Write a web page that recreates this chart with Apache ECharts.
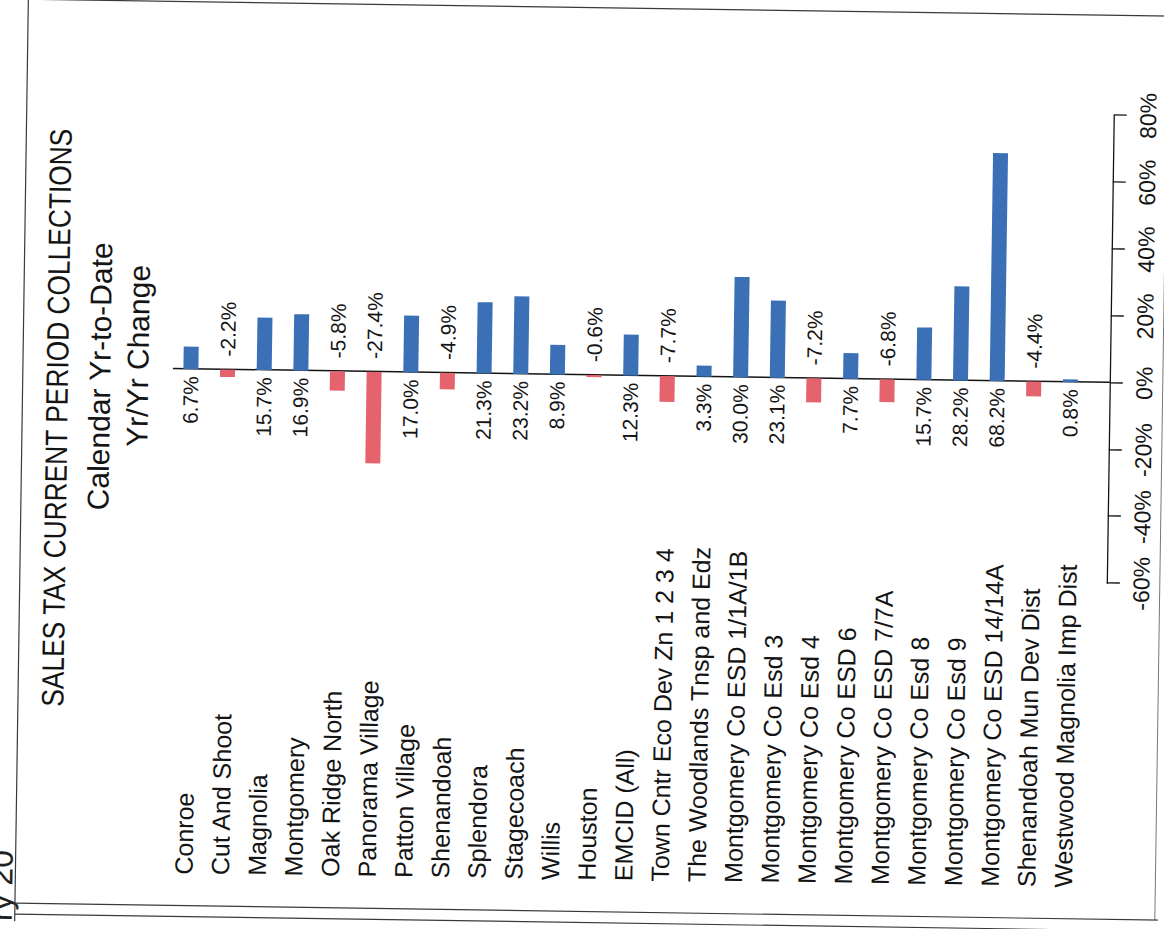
<!DOCTYPE html>
<html>
<head>
<meta charset="utf-8">
<script src="https://cdn.jsdelivr.net/npm/echarts@6/dist/echarts.min.js"></script>
<style>
  html, body { margin: 0; padding: 0; width: 1164px; height: 929px; overflow: hidden; background: #fff; }
  #chart { position: absolute; width: 929px; height: 1164px; left: 117.5px; top: -117.5px;
           transform-origin: 50% 50%; transform: rotate(-89.15deg); background: #fff; }
</style>
</head>
<body>
<div id="chart"></div>
<script>
// ---- data ----
const categories = [
  'Conroe', 'Cut And Shoot', 'Magnolia', 'Montgomery', 'Oak Ridge North',
  'Panorama Village', 'Patton Village', 'Shenandoah', 'Splendora', 'Stagecoach',
  'Willis', 'Houston', 'EMCID (All)', 'Town Cntr Eco Dev Zn 1 2 3 4',
  'The Woodlands Tnsp and Edz', 'Montgomery Co ESD 1/1A/1B', 'Montgomery Co Esd 3',
  'Montgomery Co Esd 4', 'Montgomery Co ESD 6', 'Montgomery Co ESD 7/7A',
  'Montgomery Co Esd 8', 'Montgomery Co Esd 9', 'Montgomery Co ESD 14/14A',
  'Shenandoah Mun Dev Dist', 'Westwood Magnolia Imp Dist'
];
const changePct = [
  6.7, -2.2, 15.7, 16.9, -5.8,
  -27.4, 17.0, -4.9, 21.3, 23.2,
  8.9, -0.6, 12.3, -7.7,
  3.3, 30.0, 23.1,
  -7.2, 7.7, -6.8,
  15.7, 28.2, 68.2,
  -4.4, 0.8
];
const axisMin = -60;
const axisMax = 80;
const axisStep = 20;
const titleText = 'SALES TAX CURRENT PERIOD COLLECTIONS';
const subtitle1 = 'Calendar Yr-to-Date';
const subtitle2 = 'Yr/Yr Change';
const pageFragment = 'ry 20';

// ---- styling ----
const FONT = '"Liberation Sans", Arial, Helvetica, sans-serif';
const BLUE = '#3b70b7';
const RED = '#e4636c';
const INK = '#141414';

const chart = echarts.init(document.getElementById('chart'), null, { renderer: 'svg' });

const barData = changePct.map(v => ({
  value: v,
  itemStyle: { color: v >= 0 ? BLUE : RED },
  label: { position: v >= 0 ? 'left' : 'right', distance: v >= 0 ? 7 : 13 }
}));

const option = {
  animation: false,
  backgroundColor: '#fff',
  grid: { left: 354, right: 107, top: 170.7, bottom: 77 },
  xAxis: [
    {
      type: 'value', min: axisMin, max: axisMax, interval: axisStep,
      position: 'bottom', offset: 21,
      axisLine: { show: true, onZero: false, lineStyle: { color: INK, width: 1.3 } },
      axisTick: { show: true, length: 13, lineStyle: { color: INK, width: 1.3 } },
      axisLabel: { formatter: '{value}%', fontSize: 23, color: INK, margin: 23, fontFamily: FONT },
      splitLine: { show: false }
    },
    {
      type: 'value', min: axisMin, max: axisMax,
      position: 'bottom', offset: 21,
      axisLine: { show: false, onZero: false },
      axisLabel: { show: false },
      splitLine: { show: false },
      axisTick: { show: true, inside: true, length: 937, customValues: [0],
                  lineStyle: { color: INK, width: 1.5 } }
    }
  ],
  yAxis: {
    type: 'category', inverse: true, data: categories,
    axisLine: { show: false, onZero: false },
    axisTick: { show: false },
    axisLabel: { interval: 0, align: 'left', margin: 305, fontSize: 25, color: INK, fontFamily: FONT }
  },
  series: [{
    type: 'bar',
    xAxisIndex: 0,
    barWidth: 15,
    data: barData,
    label: {
      show: true,
      formatter: p => p.value.toFixed(1) + '%',
      fontSize: 21, color: INK, fontFamily: FONT
    }
  }],
  graphic: [
    { type: 'text', x: 504, y: 55.5, scaleX: 0.85,
      style: { text: titleText, fontSize: 31, fontFamily: FONT, fill: INK,
               align: 'center', textAlign: 'center', verticalAlign: 'middle', textVerticalAlign: 'middle' } },
    { type: 'text', x: 546, y: 98,
      style: { text: subtitle1, fontSize: 30, fontFamily: FONT, fill: INK,
               align: 'center', textAlign: 'center', verticalAlign: 'middle', textVerticalAlign: 'middle' } },
    { type: 'text', x: 567, y: 136,
      style: { text: subtitle2, fontSize: 30, fontFamily: FONT, fill: INK,
               align: 'center', textAlign: 'center', verticalAlign: 'middle', textVerticalAlign: 'middle' } },
    { type: 'text', x: 71, y: 7,
      style: { text: pageFragment, fontSize: 32, fontFamily: FONT, fill: '#222',
               align: 'right', textAlign: 'right', verticalAlign: 'middle', textVerticalAlign: 'middle' } },
    // scanned page frame lines
    { type: 'line', shape: { x1: -20, y1: 21, x2: 922, y2: 21 }, style: { stroke: '#3a3a3a', lineWidth: 1.2 } },
    { type: 'line', shape: { x1: 922, y1: 21, x2: 922, y2: 1190 }, style: { stroke: '#3a3a3a', lineWidth: 1.2 } },
    { type: 'line', shape: { x1: 18, y1: 1161, x2: 922, y2: 1161 }, style: { stroke: '#777', lineWidth: 1 } },
    { type: 'line', shape: { x1: 18, y1: 21, x2: 18, y2: 1190 }, style: { stroke: '#3a3a3a', lineWidth: 1.2 } },
    { type: 'line', shape: { x1: 7, y1: 21, x2: 7, y2: 1190 }, style: { stroke: '#3a3a3a', lineWidth: 1.2 } }
  ]
};
chart.setOption(option);
</script>
</body>
</html>
